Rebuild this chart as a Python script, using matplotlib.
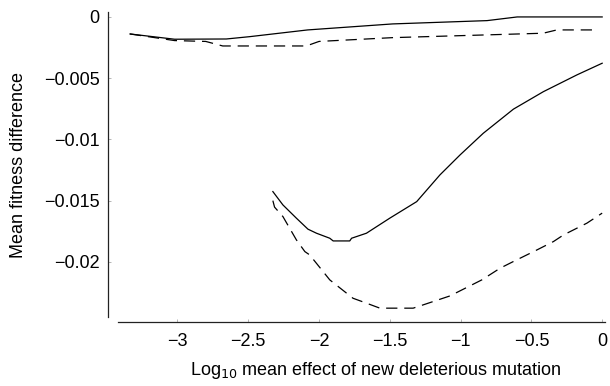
import numpy as np
import matplotlib
matplotlib.use("Agg")
import matplotlib.pyplot as plt

plt.rcParams['font.family'] = ['Liberation Sans', 'DejaVu Sans']

# upper pair of curves
x_up_solid = [-3.335, -3.02, -2.655, -2.49, -2.08, -1.48, -0.813, -0.60, 0.0]
y_up_solid = [-0.00139, -0.00182, -0.0018, -0.00161, -0.00106, -0.00057, -0.0003, 0.0, 0.0]
x_up_dash = [-3.335, -3.02, -2.8, -2.68, -2.09, -2.0, -1.48, -0.417, -0.32, -0.03]
y_up_dash = [-0.00139, -0.00193, -0.002, -0.00237, -0.00237, -0.002, -0.00169, -0.00133, -0.00106, -0.00106]

# lower pair of curves
x_lo_solid = [-2.326, -2.255, -2.16, -2.078, -2.018, -1.924, -1.90, -1.783, -1.77, -1.665,
              -1.50, -1.31, -1.146, -1.004, -0.84, -0.627, -0.415, -0.178, 0.0]
y_lo_solid = [-0.01426, -0.01535, -0.01643, -0.01733, -0.01766, -0.01807, -0.01829, -0.01829,
              -0.01807, -0.01766, -0.01643, -0.01508, -0.0129, -0.01127, -0.0095, -0.00753,
              -0.0061, -0.00473, -0.00378]
x_lo_dash = [-2.326, -2.314, -2.255, -2.16, -2.10, -2.066, -1.924, -1.76, -1.677, -1.57,
             -1.335, -1.264, -1.075, -0.85, -0.72, -0.627, -0.46, -0.344, -0.273, -0.108, 0.0]
y_lo_dash = [-0.015, -0.01553, -0.0163, -0.0182, -0.01916, -0.01943, -0.02147, -0.02297,
             -0.02332, -0.02378, -0.02378, -0.02351, -0.02278, -0.02147, -0.02051, -0.01997,
             -0.01902, -0.01834, -0.0178, -0.01684, -0.01602]

xticks = [-3, -2.5, -2, -1.5, -1, -0.5, 0]
xticklabels = ['\u22123', '\u22122.5', '\u22122', '\u22121.5', '\u22121', '\u22120.5', '0']
yticks = [0, -0.005, -0.01, -0.015, -0.02]
yticklabels = ['0', '\u22120.005', '\u22120.01', '\u22120.015', '\u22120.02']

fig = plt.figure(figsize=(6.1, 3.86), dpi=100)
ax = fig.add_axes([0.1934, 0.1788, 0.7984, 0.790])

dash = (0, (9, 5.5))
ax.plot(x_up_solid, y_up_solid, color='black', lw=0.9)
ax.plot(x_up_dash, y_up_dash, color='black', lw=0.9, linestyle=dash)
ax.plot(x_lo_solid, y_lo_solid, color='black', lw=0.9)
ax.plot(x_lo_dash, y_lo_dash, color='black', lw=0.9, linestyle=dash)

ax.set_xlim(-3.42, 0.02)
ax.set_ylim(-0.0245, 0.0004)

for s in ['top', 'right']:
    ax.spines[s].set_visible(False)
ax.spines['left'].set_position(('outward', 7.2))
ax.spines['bottom'].set_position(('outward', 3.6))
for s in ['left', 'bottom']:
    ax.spines[s].set_linewidth(0.9)
    ax.spines[s].set_color('#222222')

ax.set_xticks(xticks)
ax.set_xticklabels(xticklabels)
ax.set_yticks(yticks)
ax.set_yticklabels(yticklabels)
ax.tick_params(direction='in', length=2.5, width=0.5, color='#999999', labelsize=13)
ax.tick_params(axis='x', pad=8)
ax.tick_params(axis='y', pad=6)

ax.set_ylabel('Mean fitness difference', fontsize=13)
ax.set_xlabel('Log$_{10}$ mean effect of new deleterious mutation', fontsize=13)
ax.xaxis.set_label_coords(0.53, -0.14)
ax.yaxis.set_label_coords(-0.187, 0.5)

fig.savefig('out.png', dpi=100)
